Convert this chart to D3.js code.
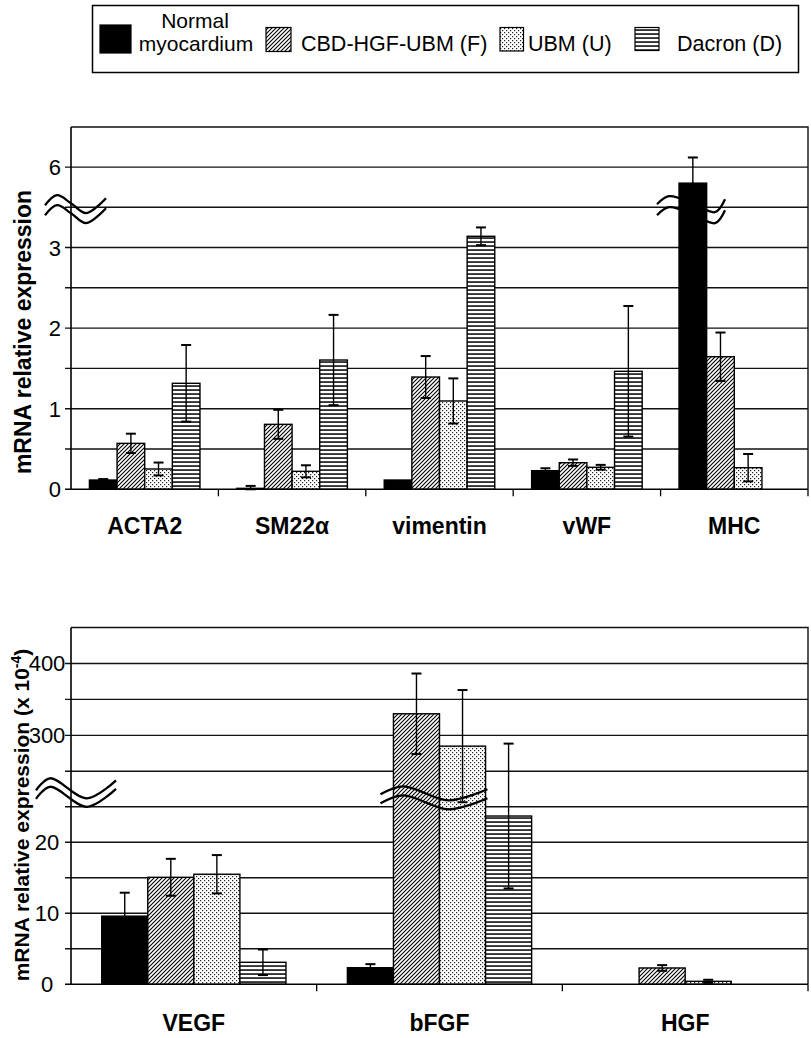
<!DOCTYPE html>
<html>
<head>
<meta charset="utf-8">
<script src="https://cdn.jsdelivr.net/npm/d3@7"></script>
<style>
  body { margin: 0; background: #fff; }
  svg text { font-family: Arial, "Liberation Sans", sans-serif; }
</style>
</head>
<body>
<script>
// series names (legend order)
var seriesNames = ["Normal myocardium", "CBD-HGF-UBM (F)", "UBM (U)", "Dacron (D)"];

// top panel
var topCategories = ["ACTA2", "SM22\u03b1", "vimentin", "vWF", "MHC"];
var topNormal    = [0.115, 0.012, 0.115, 0.231, 5.80];
var topNormalErr = [0.012, 0.03, 0, 0.03, 0.32];
var topF         = [0.57, 0.806, 1.393, 0.33, 1.645];
var topFErr      = [0.12, 0.18, 0.26, 0.04, 0.30];
var topU         = [0.252, 0.223, 1.096, 0.273, 0.268];
var topUErr      = [0.08, 0.075, 0.28, 0.03, 0.17];
var topD         = [1.315, 1.604, 3.139, 1.464, null];
var topDErr      = [0.475, 0.56, 0.11, 0.81, null];
var topTickLabels = [0, 1, 2, 3, 6];

// bottom panel (x 10^-4)
var botCategories = ["VEGF", "bFGF", "HGF"];
var botNormal    = [9.6, 2.34, 0];
var botNormalErr = [3.3, 0.5, 0];
var botF         = [15.07, 330, 2.3];
var botFErr      = [2.6, 56, 0.4];
var botU         = [15.5, 285, 0.42];
var botUErr      = [2.7, 78, 0.22];
var botD         = [3.1, 23.7, 0];
var botDErr      = [1.8, 10.2, 0];
var botTickLabels = [0, 10, 20, 300, 400];

var W = 811, H = 1038;
var svg = d3.select("body").append("svg")
	.attr("width", W)
	.attr("height", H);

var defs = svg.append("defs");
// diagonal hatch
var p1 = defs.append("pattern").attr("id", "hatch")
	.attr("patternUnits", "userSpaceOnUse").attr("width", 4).attr("height", 4);
p1.append("rect").attr("width", 4).attr("height", 4).attr("fill", "#fff");
p1.append("path").attr("d", "M-1,1 l2,-2 M0,4 l4,-4 M3,5 l2,-2")
	.attr("stroke", "#000").attr("stroke-width", 1.1);
// dots
var p2 = defs.append("pattern").attr("id", "dots")
	.attr("patternUnits", "userSpaceOnUse").attr("width", 4).attr("height", 4);
p2.append("rect").attr("width", 4).attr("height", 4).attr("fill", "#fff");
p2.append("rect").attr("x", 0).attr("y", 0).attr("width", 1.2).attr("height", 1.2).attr("fill", "#222");
p2.append("rect").attr("x", 2).attr("y", 2).attr("width", 1.2).attr("height", 1.2).attr("fill", "#222");
// horizontal lines
var p3 = defs.append("pattern").attr("id", "horiz")
	.attr("patternUnits", "userSpaceOnUse").attr("width", 8).attr("height", 4);
p3.append("rect").attr("width", 8).attr("height", 4).attr("fill", "#fff");
p3.append("rect").attr("x", 0).attr("y", 1.3).attr("width", 8).attr("height", 1.5).attr("fill", "#000");

var fills = ["#000", "url(#hatch)", "url(#dots)", "url(#horiz)"];

// ---------- legend ----------
var legend = svg.append("g");
legend.append("rect")
	.attr("x", 92.5).attr("y", 5.5).attr("width", 706).attr("height", 67)
	.attr("fill", "#fff").attr("stroke", "#000").attr("stroke-width", 1.5);
var swatches = [
	{x: 100, y: 25, w: 31, h: 28},
	{x: 266, y: 27.5, w: 25, h: 24},
	{x: 500, y: 27.5, w: 23.5, h: 23.5},
	{x: 635, y: 27.5, w: 24, h: 23}
];
legend.selectAll(".sw")
	.data(swatches)
	.enter().append("rect")
	.attr("x", function(d) { return d.x; })
	.attr("y", function(d) { return d.y; })
	.attr("width", function(d) { return d.w; })
	.attr("height", function(d) { return d.h; })
	.attr("fill", function(d, i) { return fills[i]; })
	.attr("stroke", "#000").attr("stroke-width", 1.2);
legend.append("text").attr("x", 195).attr("y", 28).attr("text-anchor", "middle")
	.style("font-size", "21px").text("Normal");
legend.append("text").attr("x", 196).attr("y", 51).attr("text-anchor", "middle")
	.style("font-size", "21px").text("myocardium");
var legendTextX = [301, 528, 677];
legend.selectAll(".lt")
	.data(seriesNames.slice(1))
	.enter().append("text")
	.attr("x", function(d, i) { return legendTextX[i]; })
	.attr("y", 51)
	.style("font-size", "21.5px")
	.text(function(d) { return d; });

// ---------- generic panel ----------
function drawPanel(cfg) {
	var g = svg.append("g");
	var left = cfg.left, right = cfg.right, top = cfg.top, bottom = cfg.bottom;

	var x0 = d3.scaleBand().domain(cfg.categories).range([left, right]);
	var bw = x0.bandwidth();
	var x1 = d3.scaleBand().domain(d3.range(4)).range([bw * 0.125, bw * 0.875]);

	var yLow = cfg.yLow, yHigh = cfg.yHigh;
	function yOf(v, base) { return base > cfg.cut ? yHigh(v) : yLow(v); }

	// gridlines
	var grid = cfg.gridLow.map(function(v) { return yLow(v); })
		.concat(cfg.gridHigh.map(function(v) { return yHigh(v); }));
	g.selectAll(".grid")
		.data(grid)
		.enter().append("line")
		.attr("x1", left - 6).attr("x2", right)
		.attr("y1", function(d) { return d; })
		.attr("y2", function(d) { return d; })
		.attr("stroke", "#111").attr("stroke-width", 1.4);
	// frame (top and right)
	g.append("path")
		.attr("d", "M" + left + "," + top + "H" + right + "V" + bottom)
		.attr("fill", "none").attr("stroke", "#111").attr("stroke-width", 1.4);

	// bars
	var rows = [];
	cfg.series.forEach(function(s, si) {
		s.vals.forEach(function(v, ci) {
			if (v === null) return;
			rows.push({s: si, c: cfg.categories[ci], v: v, e: s.errs[ci]});
		});
	});
	g.selectAll(".bar")
		.data(rows)
		.enter().append("rect")
		.attr("x", function(d) { return x0(d.c) + x1(d.s); })
		.attr("width", x1.bandwidth())
		.attr("y", function(d) { return yOf(d.v, d.v); })
		.attr("height", function(d) { return yLow(0) - yOf(d.v, d.v); })
		.attr("fill", function(d) { return fills[d.s]; })
		.attr("stroke", "#000").attr("stroke-width", 1.4);

	// error bars
	var errs = rows.filter(function(d) { return d.e > 0; });
	var eb = g.selectAll(".err").data(errs).enter().append("g");
	eb.append("line")
		.attr("x1", function(d) { return x0(d.c) + x1(d.s) + x1.bandwidth() / 2; })
		.attr("x2", function(d) { return x0(d.c) + x1(d.s) + x1.bandwidth() / 2; })
		.attr("y1", function(d) { return yOf(d.v + d.e, d.v); })
		.attr("y2", function(d) { return yOf(Math.max(0, d.v - d.e), d.v); })
		.attr("stroke", "#000").attr("stroke-width", 1.4);
	[1, -1].forEach(function(sign) {
		eb.append("line")
			.attr("x1", function(d) { return x0(d.c) + x1(d.s) + x1.bandwidth() / 2 - 5; })
			.attr("x2", function(d) { return x0(d.c) + x1(d.s) + x1.bandwidth() / 2 + 5; })
			.attr("y1", function(d) { return yOf(Math.max(0, d.v + sign * d.e), d.v); })
			.attr("y2", function(d) { return yOf(Math.max(0, d.v + sign * d.e), d.v); })
			.attr("stroke", "#000").attr("stroke-width", 2);
	});

	// axes
	g.append("line").attr("x1", left).attr("x2", left).attr("y1", top).attr("y2", bottom)
		.attr("stroke", "#000").attr("stroke-width", 1.6);
	g.append("line").attr("x1", left - 6).attr("x2", right).attr("y1", bottom).attr("y2", bottom)
		.attr("stroke", "#000").attr("stroke-width", 1.6);
	var bounds = cfg.categories.map(function(c) { return x0(c); }).slice(1).concat([right]);
	g.selectAll(".xt")
		.data(bounds)
		.enter().append("line")
		.attr("x1", function(d) { return d; }).attr("x2", function(d) { return d; })
		.attr("y1", bottom).attr("y2", bottom + 7)
		.attr("stroke", "#000").attr("stroke-width", 1.3);

	// category labels
	g.selectAll(".xl")
		.data(cfg.categories)
		.enter().append("text")
		.attr("x", function(d) { return x0(d) + bw / 2; })
		.attr("y", bottom + cfg.labelDy)
		.attr("text-anchor", "middle")
		.style("font-size", "23px").style("font-weight", "bold")
		.text(function(d) { return d; });

	// y tick labels
	g.selectAll(".yl")
		.data(cfg.tickLabels)
		.enter().append("text")
		.attr("x", cfg.tickX)
		.attr("y", function(d) { return yOf(d, d) + 8; })
		.attr("text-anchor", cfg.tickAnchor)
		.style("font-size", "22px")
		.text(function(d) { return d; });

	return {x0: x0, x1: x1, yLow: yLow, yHigh: yHigh, g: g};
}

function breakMark(g, pts, dy) {
	var line = d3.line().curve(d3.curveCatmullRom);
	[0, dy].forEach(function(o) {
		g.append("path")
			.attr("d", line(pts.map(function(p) { return [p[0], p[1] + o]; })))
			.attr("fill", "none").attr("stroke", "#000").attr("stroke-width", 2.3);
	});
}

// top panel
var topPanel = drawPanel({
	categories: topCategories,
	left: 71, right: 808, top: 127, bottom: 489.3,
	yLow: d3.scaleLinear().domain([0, 3.5]).range([489.3, 207.2]),
	yHigh: d3.scaleLinear().domain([5.5, 6.5]).range([207.2, 127]),
	cut: 4,
	gridLow: [0.5, 1, 1.5, 2, 2.5, 3, 3.5],
	gridHigh: [6],
	series: [
		{vals: topNormal, errs: topNormalErr},
		{vals: topF, errs: topFErr},
		{vals: topU, errs: topUErr},
		{vals: topD, errs: topDErr}
	],
	tickLabels: topTickLabels,
	tickX: 61, tickAnchor: "end",
	labelDy: 45
});

// bottom panel
var botPanel = drawPanel({
	categories: botCategories,
	left: 71, right: 808, top: 627.5, bottom: 984.3,
	yLow: d3.scaleLinear().domain([0, 30]).range([984.3, 771.3]),
	yHigh: d3.scaleLinear().domain([250, 450]).range([771.3, 627.5]),
	cut: 100,
	gridLow: [5, 10, 15, 20, 25, 30],
	gridHigh: [300, 350, 400],
	series: [
		{vals: botNormal, errs: botNormalErr},
		{vals: botF, errs: botFErr},
		{vals: botU, errs: botUErr},
		{vals: botD, errs: botDErr}
	],
	tickLabels: botTickLabels,
	tickX: 47, tickAnchor: "middle",
	labelDy: 47
});

// break marks (relative to the break line of each panel)
var yb = topPanel.yLow(3.5);
breakMark(svg, [[45, yb - 2], [57, yb - 12], [71, yb - 4], [86, yb + 6], [106, yb - 9]], 10);
var xm = topPanel.x0("MHC") + topPanel.x1(0);
breakMark(svg, [[xm - 22, yb - 3], [xm - 10, yb - 11], [xm + 14, yb - 4], [xm + 36, yb + 5], [xm + 46, yb - 8]], 11);
var yb2 = botPanel.yLow(30);
breakMark(svg, [[36, yb2 + 19], [50, yb2 + 7], [87, yb2 + 27], [116, yb2 + 9]], 8.5);
var xb = botPanel.x0("bFGF") + botPanel.x1(1);
breakMark(svg, [[xb - 13, yb2 + 23], [xb + 10, yb2 + 15], [xb + 55, yb2 + 29], [xb + 94, yb2 + 18]], 9);

// y axis titles
svg.append("text")
	.attr("transform", "translate(31,332) rotate(-90)")
	.attr("text-anchor", "middle")
	.style("font-size", "23px").style("font-weight", "bold")
	.text("mRNA relative expression");
var t2 = svg.append("text")
	.attr("transform", "translate(29,815) rotate(-90)")
	.attr("text-anchor", "middle")
	.style("font-size", "21px").style("font-weight", "bold");
t2.append("tspan").text("mRNA relative expression (x 10");
t2.append("tspan").attr("dy", -8).style("font-size", "14px").text("-4");
t2.append("tspan").attr("dy", 8).text(")");
</script>
</body>
</html>
